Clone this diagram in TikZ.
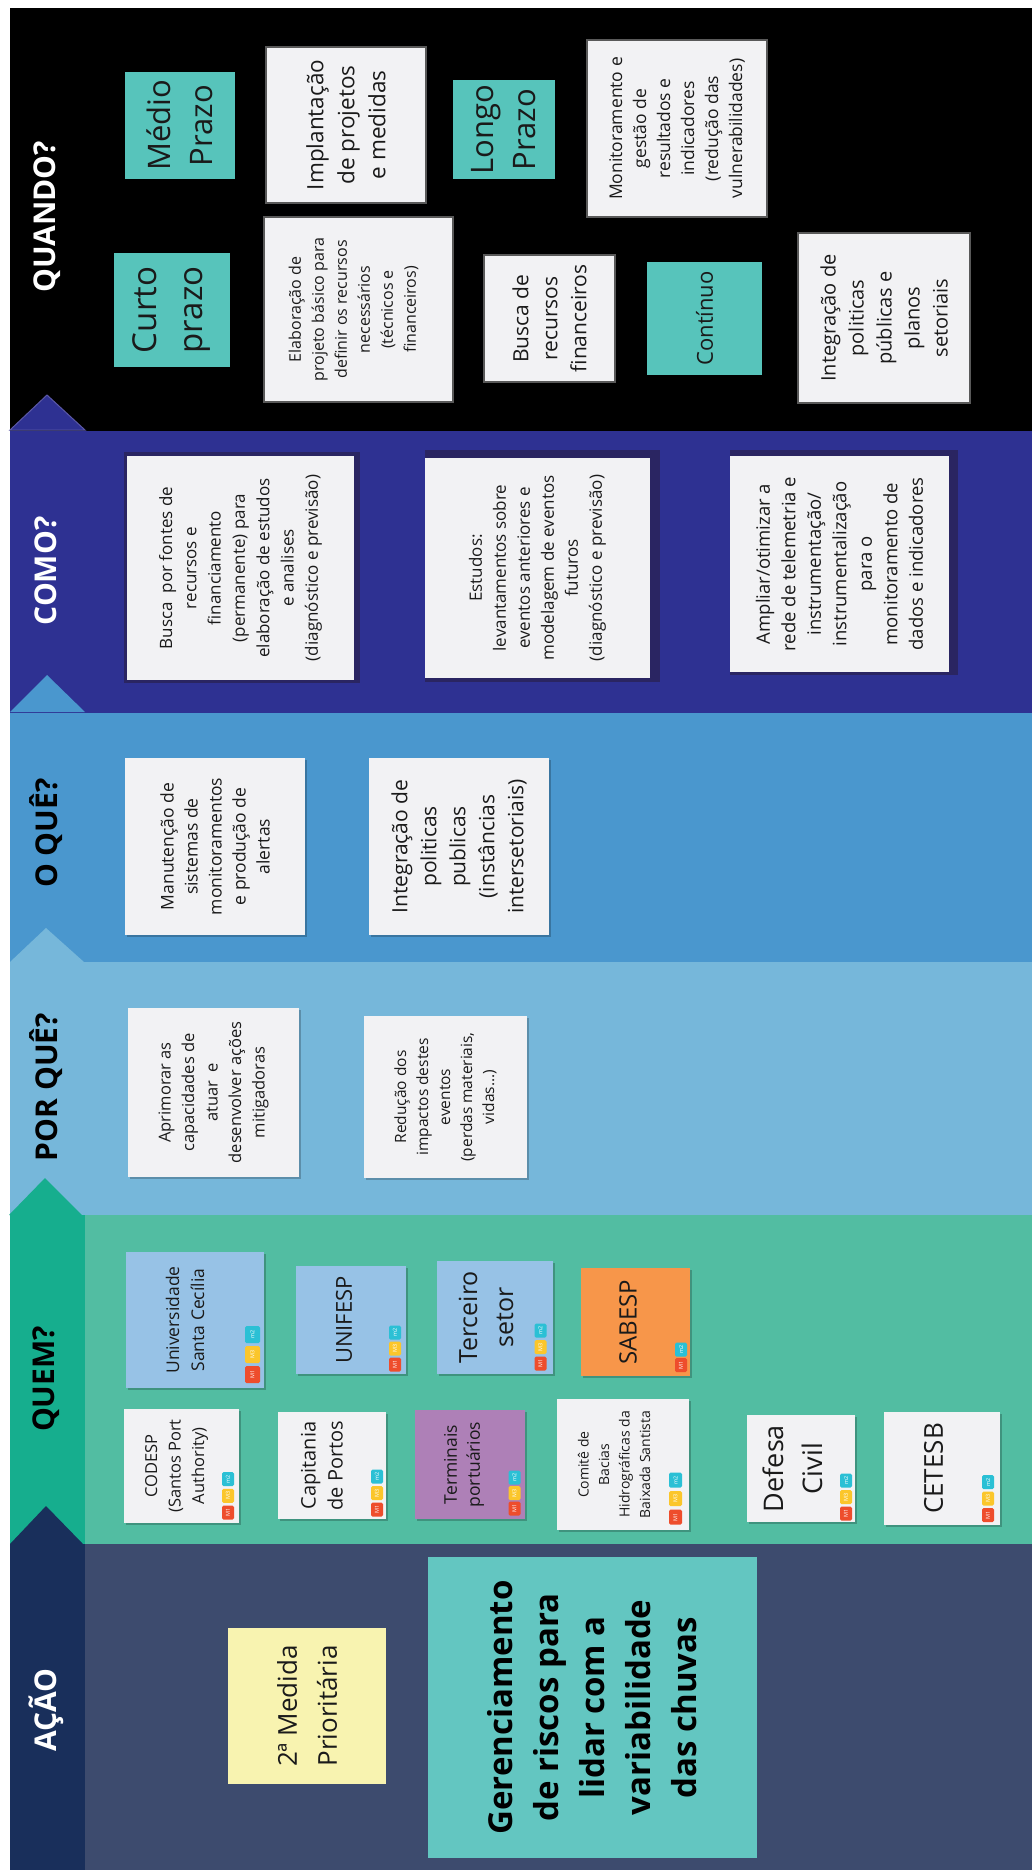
\documentclass[tikz,border=0pt]{standalone}
\usepackage{fontspec}
\setmainfont{Open Sans}
\usetikzlibrary{calc,shadows}

\definecolor{bandQuando}{HTML}{000000}
\definecolor{bandComo}{HTML}{2E3192}
\definecolor{bandOque}{HTML}{4A97CE}
\definecolor{bandPorque}{HTML}{76B7DA}
\definecolor{bandQuem}{HTML}{52BDA2}
\definecolor{colQuem}{HTML}{16AE8E}
\definecolor{bandAcao}{HTML}{3D4B6E}
\definecolor{colAcao}{HTML}{192F5B}
\definecolor{triEdge}{HTML}{5B58A6}
\definecolor{comoShade}{HTML}{2A2562}
\definecolor{noteTeal}{HTML}{57C4BB}
\definecolor{noteWhite}{HTML}{F2F2F4}
\definecolor{noteBlue}{HTML}{97C2E6}
\definecolor{noteOrange}{HTML}{F7964A}
\definecolor{notePurple}{HTML}{AE80B7}
\definecolor{noteYellow}{HTML}{F8F3B0}
\definecolor{noteAqua}{HTML}{63C6C1}
\definecolor{tagRed}{HTML}{EE4D2C}
\definecolor{tagYellow}{HTML}{FBC62B}
\definecolor{tagCyan}{HTML}{2BC0D5}
\definecolor{ink}{HTML}{1A1A1A}

\newcommand\fsz[2]{\fontsize{#1}{#2}\selectfont}

\tikzset{
  card/.style={rectangle, inner sep=0, draw=none},
  outlined/.style={draw=black!65, line width=1.2},
  soft/.style={drop shadow={shadow xshift=2pt, shadow yshift=-2pt, opacity=0.22, fill=black}},
  txt/.style={rotate=90, align=center, inner sep=0, text=ink},
  lbl/.style={rotate=90, inner sep=0, font=\bfseries\fsz{30}{36}},
  tagbox/.style={rectangle, rounded corners=1.5, rotate=90, inner sep=0,
    minimum width=14, minimum height=12, text=white, font=\fsz{5.5}{6}},
  pics/tagsthree/.style={code={
    \node[tagbox, fill=tagRed]    (-m1) at (0,0) {M1};
    \node[tagbox, fill=tagYellow] (-m3) at (0,-#1) {M3};
    \node[tagbox, fill=tagCyan]   (-m2) at (0,{-2*#1}) {m2};
  }},
  pics/tagstwo/.style={code={
    \node[tagbox, fill=tagRed]    (-m1) at (0,0) {M1};
    \node[tagbox, fill=tagCyan]   (-m2) at (0,-#1) {m2};
  }},
}

\begin{document}
\begin{tikzpicture}[x=1pt, y=-1pt]
\useasboundingbox[fill=white] (0,0) rectangle (1032,1870);

% ---- horizontal bands ----
\fill[bandQuando] (10,8) rectangle (1032,431);
\fill[bandComo]   (10,431) rectangle (1032,713);
\fill[bandOque]   (10,713) rectangle (1032,962);
\fill[bandPorque] (10,962) rectangle (1032,1215);
\fill[colQuem]    (10,1215) rectangle (85,1544);
\fill[bandQuem]   (85,1215) rectangle (1032,1544);
\fill[colAcao]    (10,1544) rectangle (85,1870);
\fill[bandAcao]   (85,1544) rectangle (1032,1870);

% ---- step triangles in the label column ----
\filldraw[fill=bandComo, draw=triEdge, line width=1] (10,430) -- (47,395) -- (85,430) -- cycle;
\fill[bandOque]   (10,712) -- (47,675) -- (85,712) -- cycle;
\fill[bandPorque] (10,962) -- (46,928) -- (84,962) -- cycle;
\fill[colQuem]    (9,1215) -- (45,1178) -- (82,1215) -- cycle;
\fill[colAcao]    (10,1544) -- (46,1506) -- (83,1544) -- cycle;

% ---- band labels ----
\node[lbl, text=white] (lquando) at (47,217)  {QUANDO?};
\node[lbl, text=white] (lcomo)   at (46,571)  {COMO?};
\node[lbl, text=black] (loque)   at (46,833)  {O QUÊ?};
\node[lbl, text=black] (lporque) at (46,1087) {POR QUÊ?};
\node[lbl, text=black] (lquem)   at (46,1379) {QUEM?};
\node[lbl, text=white] (lacao)   at (46,1710) {AÇÃO};

% ---- QUANDO ----
\node[card, fill=noteTeal, minimum width=110, minimum height=107] (medio) at (180,125.5) {};
\node[txt, font=\fsz{31}{42}] (medio-t) at (medio) {Médio\\Prazo};

\node[card, fill=noteWhite, outlined, minimum width=160, minimum height=156] (implant) at (346,125) {};
\node[txt, font=\fsz{22.5}{31}] (implant-t) at (implant) {Implantação\\de projetos\\e medidas};

\node[card, fill=noteTeal, minimum width=102, minimum height=99] (longo) at (504,129.5) {};
\node[txt, font=\fsz{31}{42}] (longo-t) at (longo) {Longo\\Prazo};

\node[card, fill=noteWhite, outlined, minimum width=180, minimum height=177] (monit) at (677,128.5) {};
\node[txt, font=\fsz{17.5}{24}] (monit-t) at (monit) {Monitoramento e\\gestão de\\resultados e\\indicadores\\(redução das\\vulnerabilidades)};

\node[card, fill=noteTeal, minimum width=116, minimum height=114] (curto) at (172,310) {};
\node[txt, font=\fsz{33}{46}] (curto-t) at (curto) {Curto\\prazo};

\node[card, fill=noteWhite, outlined, minimum width=189, minimum height=185] (elab) at (358.5,309.5) {};
\node[txt, font=\fsz{16}{23}] (elab-t) at ($(elab)+(-5,0)$) {Elaboração de\\projeto básico para\\definir os recursos\\necessários\\(técnicos e\\financeiros)};

\node[card, fill=noteWhite, outlined, minimum width=131, minimum height=127] (buscarec) at (549.5,318.5) {};
\node[txt, font=\fsz{21}{29}] (buscarec-t) at (buscarec) {Busca de\\recursos\\financeiros};

\node[card, fill=noteTeal, minimum width=115, minimum height=113] (continuo) at (704.5,318.5) {};
\node[txt, font=\fsz{22}{30}] (continuo-t) at (continuo) {Contínuo};

\node[card, fill=noteWhite, outlined, minimum width=172, minimum height=170] (integ) at (884,318) {};
\node[txt, font=\fsz{20}{28}] (integ-t) at (integ) {Integração de\\politicas\\públicas e\\planos\\setoriais};

% ---- COMO ----
\fill[comoShade] (124,452) rectangle (360,683);
\node[card, fill=noteWhite, minimum width=227, minimum height=224] (fontes) at (240.5,568) {};
\node[txt, font=\fsz{17}{24.3}] (fontes-t) at (fontes) {Busca~ por fontes de\\recursos e\\financiamento\\(permanente) para\\elaboração de estudos\\e analises\\(diagnóstico e previsão)};

\fill[comoShade] (425,450) rectangle (660,682);
\node[card, fill=noteWhite, minimum width=225, minimum height=220] (estudos) at (537.5,568) {};
\node[txt, font=\fsz{17}{24}] (estudos-t) at (estudos) {Estudos:\\levantamentos sobre\\eventos anteriores e\\modelagem de eventos\\futuros\\(diagnóstico e previsão)};

\fill[comoShade] (730,450) rectangle (958,675);
\node[card, fill=noteWhite, minimum width=219, minimum height=216] (ampliar) at (839.5,564) {};
\node[txt, font=\fsz{18.5}{25.5}] (ampliar-t) at (ampliar) {Ampliar/otimizar a\\rede de telemetria e\\instrumentação/\\instrumentalização\\para o\\monitoramento de\\dados e indicadores};

% ---- O QUÊ ----
\node[card, fill=noteWhite, soft, minimum width=180, minimum height=177] (manut) at (215,846.5) {};
\node[txt, font=\fsz{17.5}{24}] (manut-t) at (manut) {Manutenção de\\sistemas de\\monitoramentos\\e produção de\\alertas};

\node[card, fill=noteWhite, soft, minimum width=180, minimum height=177] (polint) at (459,846.5) {};
\node[txt, font=\fsz{21}{29}] (polint-t) at (polint) {Integração de\\politicas\\publicas\\(instâncias\\intersetoriais)};

% ---- POR QUÊ ----
\node[card, fill=noteWhite, soft, minimum width=171, minimum height=169] (aprim) at (213.5,1092.5) {};
\node[txt, font=\fsz{16.5}{23.5}] (aprim-t) at (aprim) {Aprimorar as\\capacidades de\\atuar~ e\\desenvolver ações\\mitigadoras};

\node[card, fill=noteWhite, soft, minimum width=163, minimum height=162] (reduc) at (445.5,1097) {};
\node[txt, font=\fsz{15.5}{22}] (reduc-t) at (reduc) {Redução dos\\impactos destes\\eventos\\(perdas materiais,\\vidas...)};

% ---- QUEM ----
\node[card, fill=noteBlue, soft, minimum width=138, minimum height=136] (usc) at (195,1320) {};
\node[txt, font=\fsz{17.5}{25}] (usc-t) at ($(usc)+(-10,0)$) {Universidade\\Santa Cecília};
\pic[tagbox/.append style={minimum width=17, minimum height=15}] (usc) at (252.5,1374.5) {tagsthree=20};

\node[card, fill=noteBlue, soft, minimum width=110, minimum height=108] (unifesp) at (351,1320) {};
\node[txt, font=\fsz{22}{30}] (unifesp-t) at ($(unifesp)+(-7,0)$) {UNIFESP};
\pic (unifesp) at (395,1364.5) {tagsthree=16};

\node[card, fill=noteBlue, soft, minimum width=116, minimum height=113] (terceiro) at (495,1317.5) {};
\node[txt, font=\fsz{25}{36}] (terceiro-t) at ($(terceiro)+(-9,0)$) {Terceiro\\setor};
\pic (terceiro) at (540.5,1363.5) {tagsthree=16.5};

\node[card, fill=noteOrange, soft, minimum width=109, minimum height=108] (sabesp) at (635.5,1322) {};
\node[txt, font=\fsz{24}{32}] (sabesp-t) at ($(sabesp)+(-7.5,0)$) {SABESP};
\pic (sabesp) at (681,1365) {tagstwo=15.5};

\node[card, fill=noteWhite, soft, minimum width=115, minimum height=114] (codesp) at (181.5,1466) {};
\node[txt, font=\fsz{16.5}{23.5}] (codesp-t) at ($(codesp)+(-5,0)$) {CODESP\\(Santos Port\\Authority)};
\pic (codesp) at (228,1512.5) {tagsthree=16.75};

\node[card, fill=noteWhite, soft, minimum width=108, minimum height=107] (capit) at (332,1465.5) {};
\node[txt, font=\fsz{20}{27}] (capit-t) at ($(capit)+(-10,0)$) {Capitania\\de Portos};
\pic (capit) at (377,1509.5) {tagsthree=16.5};

\node[card, fill=notePurple, soft, minimum width=110, minimum height=109] (termin) at (470,1464.5) {};
\node[txt, font=\fsz{17.5}{23}] (termin-t) at ($(termin)+(-6,0)$) {Terminais\\portuários};
\pic (termin) at (514.5,1508.5) {tagsthree=15.5};

\node[card, fill=noteWhite, soft, minimum width=132, minimum height=131] (comite) at (623,1464.5) {};
\node[txt, font=\fsz{14}{20.5}] (comite-t) at ($(comite)+(-9,0)$) {Comitê de\\Bacias\\Hidrográficas da\\Baixada Santista};
\pic[tagbox/.append style={minimum width=15, minimum height=13}] (comite) at (675.5,1517) {tagsthree=18.5};

\node[card, fill=noteWhite, soft, minimum width=108, minimum height=107] (defesa) at (801,1468.5) {};
\node[txt, font=\fsz{27}{39}] (defesa-t) at ($(defesa)+(-8.5,0)$) {Defesa\\Civil};
\pic (defesa) at (846,1513.5) {tagsthree=16.5};

\node[card, fill=noteWhite, soft, minimum width=116, minimum height=113] (cetesb) at (942,1468.5) {};
\node[txt, font=\fsz{26}{34}] (cetesb-t) at ($(cetesb)+(-8.5,0)$) {CETESB};
\pic (cetesb) at (988,1515) {tagsthree=16.5};

% ---- AÇÃO ----
\node[card, fill=noteYellow, minimum width=158, minimum height=156] (medida) at (307,1706) {};
\node[txt, font=\fsz{26}{40}] (medida-t) at (medida) {2ª Medida\\Prioritária};

\node[card, fill=noteAqua, minimum width=329, minimum height=301] (gerenc) at (592.5,1707.5) {};
\node[txt, font=\bfseries\fsz{33}{46}, text=black] (gerenc-t) at (gerenc) {Gerenciamento\\de riscos para\\lidar com a\\variabilidade\\das chuvas};

\end{tikzpicture}
\end{document}
